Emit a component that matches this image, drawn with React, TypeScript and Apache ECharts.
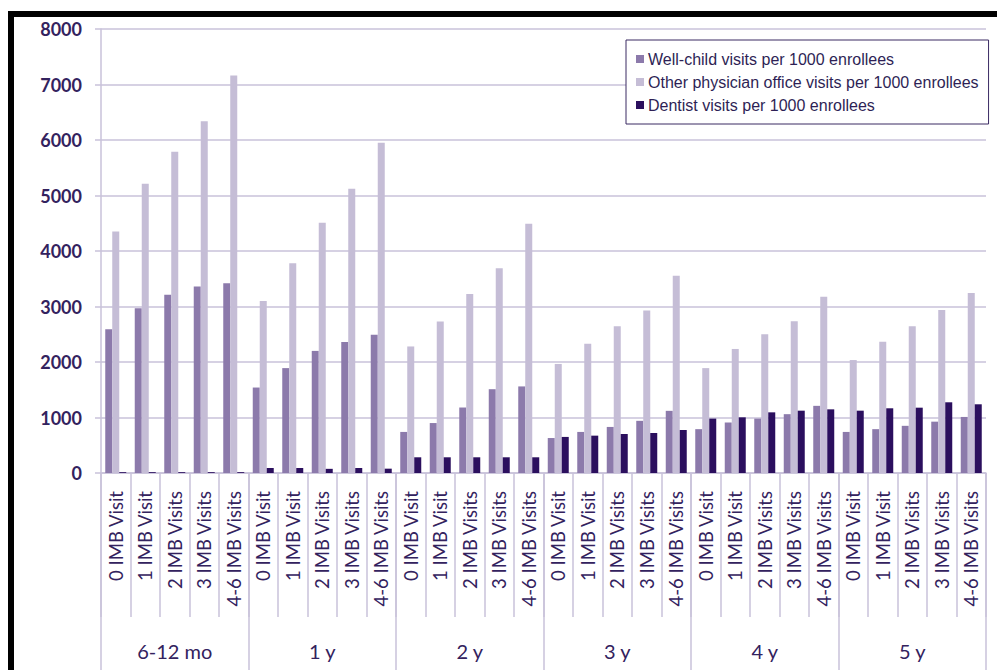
import React, { useEffect, useRef } from "react";
import * as echarts from "echarts";

const groups = ["6-12 mo", "1 y", "2 y", "3 y", "4 y", "5 y"];
const visitLabels = ["0 IMB Visit", "1 IMB Visit", "2 IMB Visits", "3 IMB Visits", "4-6 IMB Visits"];
const categories: string[] = groups.flatMap((g) => visitLabels.map((v) => v));

const wellChild = [
  2590, 2970, 3210, 3360, 3420,
  1540, 1890, 2200, 2360, 2490,
  740, 900, 1180, 1510, 1560,
  630, 740, 830, 940, 1120,
  790, 910, 980, 1060, 1210,
  740, 790, 850, 925, 1010,
];
const otherPhysician = [
  4350, 5210, 5790, 6340, 7160,
  3100, 3780, 4510, 5120, 5950,
  2280, 2730, 3225, 3690, 4490,
  1965, 2330, 2645, 2930, 3555,
  1890, 2235, 2500, 2735, 3175,
  2035, 2365, 2645, 2935, 3245,
];
const dentist = [
  15, 15, 15, 15, 15,
  90, 90, 75, 90, 78,
  283, 283, 283, 283, 283,
  650, 673, 703, 721, 775,
  980, 1003, 1093, 1123, 1147,
  1123, 1166, 1177, 1274, 1238,
];
const yTicks = [0, 1000, 2000, 3000, 4000, 5000, 6000, 7000, 8000];

const seriesNames = [
  "Well-child visits per 1000 enrollees",
  "Other physician office visits per 1000 enrollees",
  "Dentist visits per 1000 enrollees",
];
const colors = ["#8c7aab", "#c5bdd6", "#2b0f5e"];
const textColor = "#33225e";
const lineColor = "#c9c2da";

export default function App() {
  const ref = useRef<HTMLDivElement>(null);
  useEffect(() => {
    if (!ref.current) return;
    const chart = echarts.init(ref.current, undefined, { renderer: "svg" });
    chart.setOption({
      animation: false,
      backgroundColor: "#ffffff",
      grid: { left: 101, right: 11, top: 29, bottom: 197, containLabel: false },
      legend: {
        orient: "vertical",
        left: 626,
        top: 40,
        padding: [11, 10, 11, 10],
        itemGap: 7,
        itemWidth: 8,
        itemHeight: 8,
        icon: "rect",
        backgroundColor: "#ffffff",
        borderColor: "#3a2a63",
        borderWidth: 1,
        textStyle: { fontFamily: "Liberation Sans", fontSize: 16, color: "#2e1f55", padding: [0, 0, 0, -1] },
        data: seriesNames,
      },
      xAxis: [
        {
          type: "category",
          data: categories,
          position: "bottom",
          axisLine: { show: true, lineStyle: { color: lineColor, width: 1.5 } },
          axisTick: { show: true, length: 144, interval: 0, lineStyle: { color: lineColor, width: 1.5 } },
          axisLabel: {
            interval: 0,
            rotate: 90,
            margin: 18,
            fontFamily: "Lato",
            fontSize: 18.5,
            color: textColor,
          },
        },
        {
          type: "category",
          data: groups,
          position: "bottom",
          offset: 0,
          axisLine: { show: false },
          axisTick: { show: true, length: 220, interval: 0, lineStyle: { color: lineColor, width: 1.5 } },
          axisLabel: {
            interval: 0,
            margin: 168,
            fontFamily: "Lato",
            fontSize: 20,
            color: textColor,
          },
        },
      ],
      yAxis: {
        type: "value",
        min: 0,
        max: 8000,
        interval: 1000,
        axisLine: { show: true, lineStyle: { color: lineColor, width: 1.5 } },
        axisTick: { show: true, length: 6, lineStyle: { color: lineColor, width: 1.5 } },
        splitLine: { show: true, lineStyle: { color: lineColor, width: 1.5 } },
        axisLabel: {
          margin: 19,
          fontFamily: "Lato",
          fontSize: 18,
          fontWeight: "bold",
          color: textColor,
          formatter: (v: number) => (yTicks.includes(v) ? String(v) : ""),
        },
      },
      series: [
        { name: seriesNames[0], type: "bar", data: wellChild, barWidth: 7, barGap: "0%", barCategoryGap: "28%", itemStyle: { color: colors[0] } },
        { name: seriesNames[1], type: "bar", data: otherPhysician, barWidth: 7, barGap: "0%", itemStyle: { color: colors[1] } },
        { name: seriesNames[2], type: "bar", data: dentist, barWidth: 7, barGap: "0%", itemStyle: { color: colors[2] } },
      ],
      graphic: [
        {
          type: "rect",
          shape: { x: 11, y: 14, width: 1000, height: 700 },
          style: { fill: "none", stroke: "#000000", lineWidth: 6 },
          silent: true,
          z: 100,
        },
      ],
    });
    return () => chart.dispose();
  }, []);
  return (
    <div
      ref={ref}
      style={{ position: "fixed", left: 0, top: 0, width: 997, height: 670, background: "#fff" }}
    />
  );
}
